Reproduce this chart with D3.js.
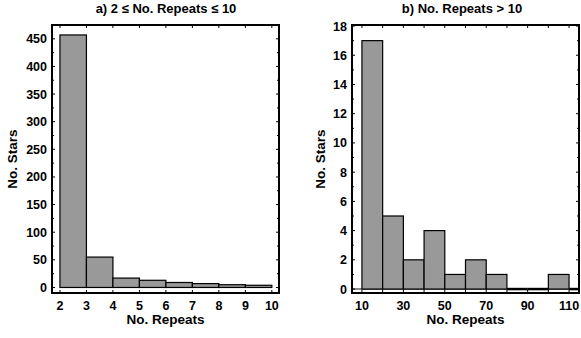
<!DOCTYPE html>
<html>
<head>
<meta charset="utf-8">
<script src="https://cdn.jsdelivr.net/npm/d3@7"></script>
<style>
  body { margin: 0; background: #fff; }
  text { font-family: "Liberation Sans", Arial, sans-serif; font-weight: bold; fill: #000; }
</style>
</head>
<body>
<svg id="chart" width="581" height="338"></svg>
<script>
// panel a) 2 <= repeats <= 10, one bin per integer
var binsA = [2, 3, 4, 5, 6, 7, 8, 9];
var countsA = [457, 55, 17, 13, 9, 7, 5, 4];
var xTicksA = [2, 3, 4, 5, 6, 7, 8, 9, 10];
var yTicksA = [0, 50, 100, 150, 200, 250, 300, 350, 400, 450];

// panel b) repeats > 10, bins of width 10
var binsB = [10, 20, 30, 40, 50, 60, 70, 80, 90, 100];
var countsB = [17, 5, 2, 4, 1, 2, 1, 0, 0, 1];
var xTicksB = [10, 30, 50, 70, 90, 110];
var yTicksB = [0, 2, 4, 6, 8, 10, 12, 14, 16, 18];

var svg = d3.select("#chart");

function panel(opt) {
    var x = d3.scaleLinear().domain(opt.xDomain).range([opt.left, opt.right]);
    var y = d3.scaleLinear().domain(opt.yDomain).range([opt.bottom, opt.top]);
    var g = svg.append("g");

    if (opt.baseline) {
        g.append("line")
            .attr("x1", opt.left).attr("x2", opt.right)
            .attr("y1", y(0)).attr("y2", y(0))
            .attr("stroke", "#8a8a8a").attr("stroke-width", 2);
    }

    var bars = opt.bins.map(function(b, i) { return {x0: b, x1: b + opt.width, n: opt.counts[i]}; });

    g.selectAll("rect.bar")
        .data(bars.filter(function(d) { return d.n > 0; }))
        .enter().append("rect")
        .attr("class", "bar")
        .attr("x", function(d) { return x(d.x0); })
        .attr("width", function(d) { return x(d.x1) - x(d.x0); })
        .attr("y", function(d) { return y(d.n); })
        .attr("height", function(d) { return y(0) - y(d.n); })
        .attr("fill", "#999999")
        .attr("stroke", "#000")
        .attr("stroke-width", 1.2);

    // empty bins are drawn as a thick line on zero
    g.selectAll("line.empty")
        .data(bars.filter(function(d) { return d.n === 0; }))
        .enter().append("line")
        .attr("class", "empty")
        .attr("x1", function(d) { return x(d.x0); })
        .attr("x2", function(d) { return x(d.x1); })
        .attr("y1", y(0)).attr("y2", y(0))
        .attr("stroke", "#000").attr("stroke-width", 2.5);
    if (opt.baseline) {
        var last = bars[bars.length - 1];
        g.append("line")
            .attr("x1", x(last.x1)).attr("x2", opt.right)
            .attr("y1", y(0)).attr("y2", y(0))
            .attr("stroke", "#000").attr("stroke-width", 2.5);
    }

    // inward ticks on all four sides
    function tickSet(vals, len) {
        vals.forEach(function(v) {
            var px = x(v);
            g.append("line").attr("x1", px).attr("x2", px).attr("y1", opt.bottom).attr("y2", opt.bottom - len).attr("stroke", "#000");
            g.append("line").attr("x1", px).attr("x2", px).attr("y1", opt.top).attr("y2", opt.top + len).attr("stroke", "#000");
        });
    }
    function tickSetY(vals, len) {
        vals.forEach(function(v) {
            var py = y(v);
            g.append("line").attr("x1", opt.left).attr("x2", opt.left + len).attr("y1", py).attr("y2", py).attr("stroke", "#000");
            g.append("line").attr("x1", opt.right).attr("x2", opt.right - len).attr("y1", py).attr("y2", py).attr("stroke", "#000");
        });
    }
    tickSet(opt.xTicks, 3);
    tickSet(opt.xMinor, 3);
    tickSetY(opt.yTicks, 3);
    tickSetY(opt.yMinor, 2);

    g.append("rect")
        .attr("x", opt.left).attr("y", opt.top)
        .attr("width", opt.right - opt.left).attr("height", opt.bottom - opt.top)
        .attr("fill", "none").attr("stroke", "#000").attr("stroke-width", 2);

    g.selectAll("text.xt")
        .data(opt.xTicks)
        .enter().append("text")
        .attr("class", "xt")
        .attr("x", function(d) { return x(d); })
        .attr("y", opt.bottom + 16.5)
        .attr("text-anchor", "middle")
        .attr("font-size", 12.5)
        .text(function(d) { return d; });

    g.selectAll("text.yt")
        .data(opt.yTicks)
        .enter().append("text")
        .attr("class", "yt")
        .attr("x", opt.left - 5)
        .attr("y", function(d) { return y(d) + 4.5; })
        .attr("text-anchor", "end")
        .attr("font-size", 12.5)
        .text(function(d) { return d; });

    g.append("text")
        .attr("x", (opt.left + opt.right) / 2)
        .attr("y", opt.bottom + 31)
        .attr("text-anchor", "middle")
        .attr("font-size", 13.5)
        .text("No. Repeats");

    g.append("text")
        .attr("transform", "translate(" + opt.yLabelX + "," + (opt.top + opt.bottom) / 2 + ") rotate(-90)")
        .attr("text-anchor", "middle")
        .attr("font-size", 13.5)
        .text("No. Stars");

    g.append("text")
        .attr("x", opt.titleX)
        .attr("y", 13)
        .attr("text-anchor", "middle")
        .attr("font-size", 13)
        .text(opt.title);
}

panel({
    left: 52, right: 279, top: 25, bottom: 293,
    xDomain: [1.7, 10.27], yDomain: [-10, 475],
    bins: binsA, counts: countsA, width: 1,
    xTicks: xTicksA, xMinor: [],
    yTicks: yTicksA, yMinor: yTicksA.map(function(v) { return v + 25; }).filter(function(v) { return v < 475; }),
    yLabelX: 17, titleX: 166,
    title: "a) 2 \u2264 No. Repeats \u2264 10",
    baseline: false
});

panel({
    left: 352, right: 579, top: 25, bottom: 293,
    xDomain: [5.2, 114.8], yDomain: [-0.27, 18.07],
    bins: binsB, counts: countsB, width: 10,
    xTicks: xTicksB, xMinor: [20, 40, 60, 80, 100],
    yTicks: yTicksB, yMinor: [1, 3, 5, 7, 9, 11, 13, 15, 17],
    yLabelX: 325, titleX: 462,
    title: "b) No. Repeats > 10",
    baseline: true
});
</script>
</body>
</html>
